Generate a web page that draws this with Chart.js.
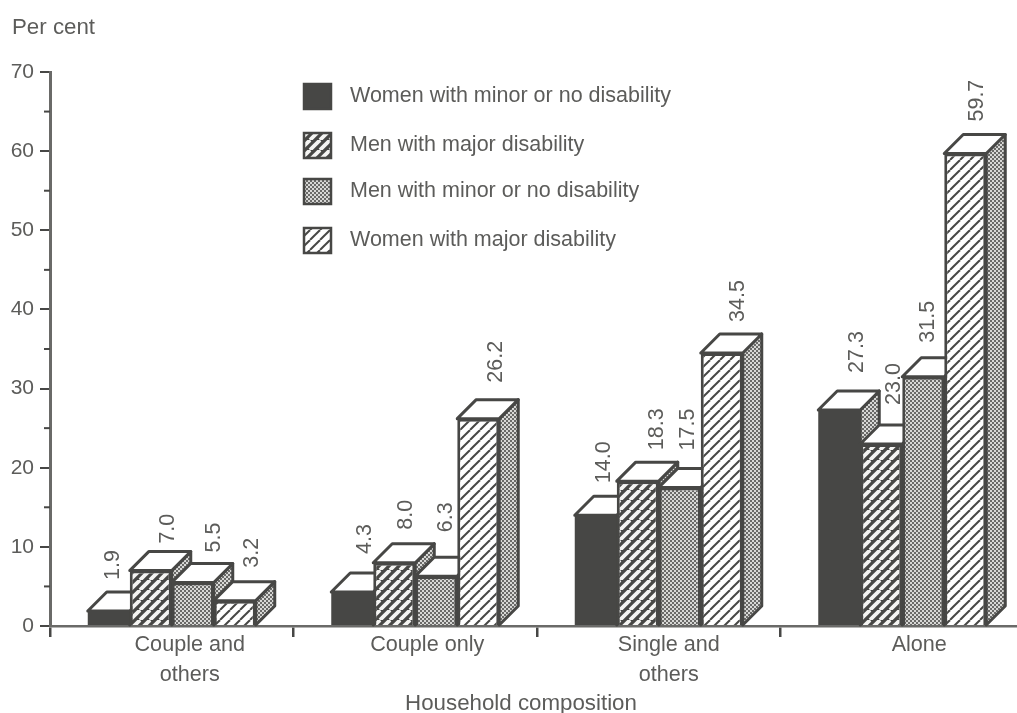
<!DOCTYPE html>
<html lang="en">
  <head>
    <meta charset="UTF-8" />
    <title>Household composition</title>
    <script src="https://cdn.jsdelivr.net/npm/chart.js"></script>
    <style>
      html,
      body {
        margin: 0;
        background: #fff;
        overflow: hidden;
      }
    </style>
  </head>
  <body>
    <canvas id="myChart" width="1024" height="713"></canvas>

    <script>
      const categories = [["Couple and", "others"], ["Couple only"], ["Single and", "others"], ["Alone"]];
      const seriesNames = [
        "Women with minor or no disability",
        "Men with major disability",
        "Men with minor or no disability",
        "Women with major disability",
      ];
      const womenMinor = [1.9, 4.3, 14.0, 27.3];
      const menMajor = [7.0, 8.0, 18.3, 23.0];
      const menMinor = [5.5, 6.3, 17.5, 31.5];
      const womenMajor = [3.2, 26.2, 34.5, 59.7];
      const yTicks = [0, 10, 20, 30, 40, 50, 60, 70];

      const INK = "#474745";
      const TEXT = "#5c5c5a";
      const FONT = "'Liberation Sans', Arial, sans-serif";
      const DEPTH = 19;

      // hand placement of the upright value labels, per series then per group
      const labelDx = [
        [4, 13, 8, 18],
        [17, 12, 19, 13],
        [21, 10, 8, 5],
        [17, 18, 16, 12],
      ];
      const labelGap = [
        [31, 38, 32, 37],
        [27, 33, 31, 39],
        [30, 44, 37, 34],
        [33, 36, 31, 32],
      ];
      const groupLabelShift = [18, 12, 10, 17];
      const legendY = [96, 145, 191, 240];

      function tile(size, paint) {
        const c = document.createElement("canvas");
        c.width = size;
        c.height = size;
        paint(c.getContext("2d"), size);
        return document.createElement("canvas").getContext("2d").createPattern(c, "repeat");
      }

      function diagonal(back, line, width) {
        return tile(10, (g, n) => {
          g.fillStyle = back;
          g.fillRect(0, 0, n, n);
          g.strokeStyle = line;
          g.lineWidth = width;
          [-n, 0, n].forEach((s) => {
            g.beginPath();
            g.moveTo(s, n);
            g.lineTo(s + n, 0);
            g.stroke();
          });
        });
      }

      const dots = tile(4, (g) => {
        g.fillStyle = "#6a6a68";
        g.fillRect(0, 0, 4, 4);
        g.fillStyle = "#d8d8d6";
        g.fillRect(0, 0, 2, 2);
        g.fillRect(2, 2, 2, 2);
      });
      const fills = [INK, diagonal(INK, "#f4f4f2", 3.8), dots, diagonal("#fff", INK, 2)];

      function polygon(ctx, points, fill) {
        ctx.beginPath();
        points.forEach((p, i) => (i ? ctx.lineTo(p[0], p[1]) : ctx.moveTo(p[0], p[1])));
        ctx.closePath();
        ctx.fillStyle = fill;
        ctx.fill();
        ctx.stroke();
      }

      // series paint left to right, each box covering the faces of the one before it
      const boxFaces = {
        id: "boxFaces",
        beforeDatasetDraw() {
          return false;
        },
        afterDatasetsDraw(chart) {
          const ctx = chart.ctx;
          chart.data.datasets.forEach((ds, i) => {
            chart.getDatasetMeta(i).data.forEach((bar) => {
              const r = bar.x + bar.width / 2;
              const l = bar.x - bar.width / 2;
              ctx.save();
              ctx.strokeStyle = INK;
              ctx.lineWidth = 3;
              ctx.lineJoin = "round";
              polygon(ctx, [[r, bar.y], [r + DEPTH, bar.y - DEPTH], [r + DEPTH, bar.base - DEPTH], [r, bar.base]], dots);
              polygon(ctx, [[l, bar.y], [l + DEPTH, bar.y - DEPTH], [r + DEPTH, bar.y - DEPTH], [r, bar.y]], "#fff");
              ctx.restore();
              bar.draw(ctx);
            });
          });
        },
      };

      const annotations = {
        id: "annotations",
        afterDraw(chart) {
          const ctx = chart.ctx;
          const y = chart.scales.y;
          const x = chart.scales.x;
          ctx.save();

          // minor ticks halfway between the numbered ones
          ctx.strokeStyle = INK;
          ctx.lineWidth = 2;
          yTicks.slice(1).forEach((v) => {
            const py = y.getPixelForValue(v - 5);
            ctx.beginPath();
            ctx.moveTo(x.left - 6, py);
            ctx.lineTo(x.left, py);
            ctx.stroke();
          });

          ctx.fillStyle = TEXT;
          ctx.font = "22.3px " + FONT;
          ctx.textBaseline = "alphabetic";
          ctx.textAlign = "left";
          ctx.fillText("Per cent", 12, 34);

          ctx.font = "21.6px " + FONT;
          ctx.textAlign = "center";
          categories.forEach((lines, i) => {
            lines.forEach((line, k) => {
              ctx.fillText(line, x.getPixelForValue(i) + groupLabelShift[i], 651 + k * 30);
            });
          });
          ctx.font = "22.3px " + FONT;
          ctx.fillText("Household composition", 521, 710);

          // legend
          ctx.font = "21.5px " + FONT;
          ctx.textAlign = "left";
          ctx.textBaseline = "middle";
          ctx.lineWidth = 2.5;
          seriesNames.forEach((name, i) => {
            ctx.fillStyle = fills[i];
            ctx.fillRect(304, legendY[i] - 12, 27, 25);
            ctx.strokeRect(304, legendY[i] - 12, 27, 25);
            ctx.fillStyle = TEXT;
            ctx.fillText(name, 350, legendY[i]);
          });

          // value labels read upward above each box
          ctx.font = "21.5px " + FONT;
          chart.data.datasets.forEach((ds, i) => {
            chart.getDatasetMeta(i).data.forEach((bar, j) => {
              ctx.save();
              ctx.translate(bar.x + labelDx[i][j], bar.y - labelGap[i][j]);
              ctx.rotate(-Math.PI / 2);
              ctx.fillText(ds.data[j].toFixed(1), 0, 0);
              ctx.restore();
            });
          });
          ctx.restore();
        },
      };

      const ctx = document.getElementById("myChart").getContext("2d");
      new Chart(ctx, {
        type: "bar",
        data: {
          labels: categories,
          datasets: [womenMinor, menMajor, menMinor, womenMajor].map((values, i) => ({
            label: seriesNames[i],
            data: values,
            backgroundColor: fills[i],
            borderColor: INK,
            // the solid series needs no outline of its own
            borderWidth: i === 0 ? 0 : 3,
            categoryPercentage: 168 / 243.5,
            barPercentage: 1,
          })),
        },
        options: {
          responsive: false,
          animation: false,
          layout: { padding: { top: 72 } },
          plugins: { legend: { display: false }, tooltip: { enabled: false } },
          scales: {
            x: {
              afterFit: (scale) => {
                scale.height = 87;
              },
              grid: { drawOnChartArea: false, offset: true, color: INK, lineWidth: 2.5, tickLength: 11 },
              border: { color: "#6a6a68", width: 2.5 },
              ticks: { display: false },
            },
            y: {
              min: 0,
              max: 70,
              afterFit: (scale) => {
                scale.width = 50;
              },
              afterBuildTicks: (scale) => {
                scale.ticks = yTicks.map((v) => ({ value: v }));
              },
              grid: { drawOnChartArea: false, color: INK, lineWidth: 2, tickLength: 10 },
              border: { color: "#6a6a68", width: 3 },
              ticks: { color: TEXT, padding: 6, font: { size: 21, family: FONT } },
            },
          },
        },
        plugins: [boxFaces, annotations],
      });
    </script>
  </body>
</html>
